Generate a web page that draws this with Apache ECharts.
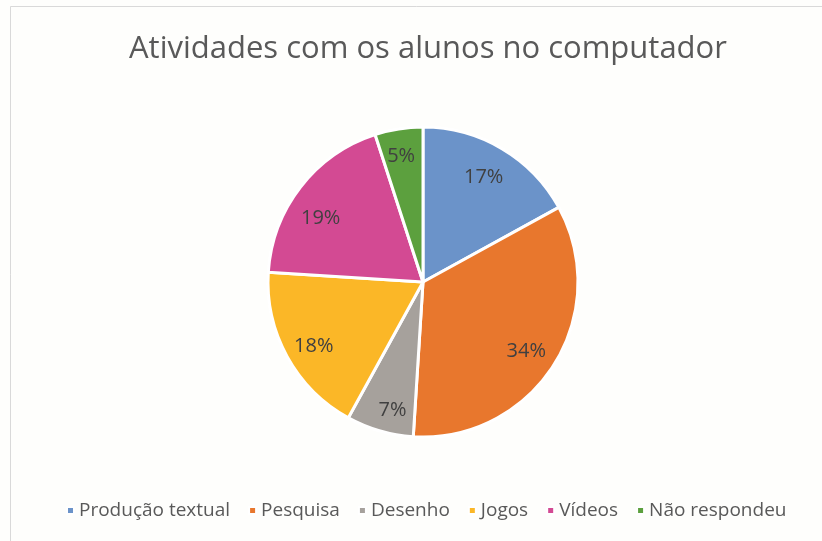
<!DOCTYPE html>
<html><head><meta charset="utf-8">
<script src="https://cdn.jsdelivr.net/npm/echarts@6/dist/echarts.min.js"></script>
<style>html,body{margin:0;padding:0;background:#fefefc}#c{width:822px;height:541px}</style>
</head><body><div id="c"></div>
<script>
const categories = ['Produção textual', 'Pesquisa', 'Desenho', 'Jogos', 'Vídeos', 'Não respondeu'];
const values = [17, 34, 7, 18, 19, 5];
const colors = ['#6B93C9', '#E8772D', '#A6A19C', '#FBB727', '#D34A93', '#5CA03E'];
const labelNudges = [[-4, 5], [-4, 1], [5, 6], [2, 3], [-2, 14], [-2, 0]];
const titleText = 'Atividades com os alunos no computador';

const chart = echarts.init(document.getElementById('c'), null, {renderer: 'canvas'});
const data = categories.map((n, i) => ({name: n, value: values[i], itemStyle: {color: colors[i]}}));
chart.setOption({
  backgroundColor: '#fefefc',
  animation: false,
  title: {
    text: titleText, left: 124, top: 29,
    textStyle: {fontFamily: 'Open Sans', fontSize: 31, fontWeight: 'normal', color: '#595959'}
  },
  legend: {
    bottom: 16, left: 61, icon: 'rect', itemWidth: 7, itemHeight: 7, itemGap: 18,
    textStyle: {fontFamily: 'Open Sans', fontSize: 19, color: '#595959'},
    data: categories
  },
  graphic: [{type: 'rect', shape: {x: 10.5, y: 6.5, width: 900, height: 700}, style: {fill: 'none', stroke: '#d9d9d9', lineWidth: 1}, silent: true}],
  series: [
    {
      type: 'pie', center: [423, 282], radius: [0, 155], startAngle: 90, clockwise: true,
      itemStyle: {borderColor: '#ffffff', borderWidth: 3},
      label: {show: false}, labelLine: {show: false}, data: data
    },
    {
      type: 'pie', center: [423, 282], radius: [0, 248], startAngle: 90, clockwise: true, silent: true,
      itemStyle: {color: 'rgba(0,0,0,0)', borderWidth: 0},
      label: {show: true, position: 'inside', formatter: '{c}%', fontFamily: 'Open Sans', fontSize: 20, color: '#404040'},
      labelLine: {show: false},
      data: categories.map((n, i) => ({name: n, value: values[i], itemStyle: {color: 'rgba(0,0,0,0)'}, label: {offset: labelNudges[i]}}))
    }
  ]
});
</script></body></html>
